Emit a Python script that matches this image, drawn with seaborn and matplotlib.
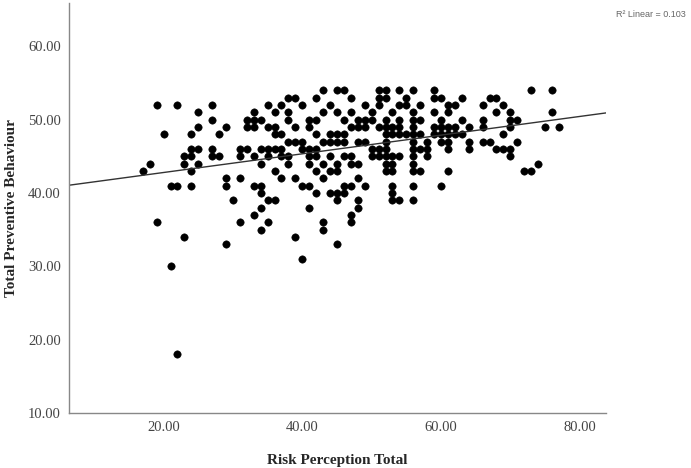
import numpy as np
import pandas as pd
import seaborn as sns
import matplotlib
matplotlib.use("Agg")
import matplotlib.pyplot as plt
from matplotlib.ticker import FormatStrFormatter

# Risk Perception Total values, one list per
# Total Preventive Behaviour score (points sit on an integer grid)
row_54 = [43, 45, 46, 51, 52, 54, 56, 59, 73, 76]
row_53 = [38, 39, 42, 47, 51, 52, 55, 59, 60, 63, 67, 68]
row_52 = [19, 22, 27, 35, 37, 40, 44, 49, 51, 54, 55, 57, 61, 62, 66, 69]
row_51 = [25, 33, 36, 38, 43, 45, 47, 50, 53, 56, 59, 61, 68, 70, 76]
row_50 = [27, 32, 33, 34, 38, 41, 42, 46, 48, 49, 50, 52, 54, 56, 57, 60, 63, 66, 70, 71]
row_49 = [25, 29, 32, 33, 35, 36, 39, 41, 47, 48, 49, 51, 52, 53, 54, 56, 59, 60, 61, 62,
          64, 66, 70, 75, 77]
row_48 = [20, 24, 28, 36, 37, 42, 44, 45, 46, 52, 53, 54, 55, 56, 57, 59, 60, 61, 62, 63, 69]
row_47 = [38, 39, 40, 43, 44, 45, 46, 48, 49, 52, 56, 58, 60, 61, 64, 66, 67, 71]
row_46 = [24, 25, 27, 31, 32, 34, 35, 36, 37, 40, 41, 42, 50, 51, 52, 56, 57, 58, 61, 64,
          68, 69, 70]
row_45 = [23, 24, 27, 28, 31, 33, 35, 37, 38, 41, 42, 44, 46, 47, 50, 51, 52, 53, 54, 56,
          58, 70]
row_44 = [18, 23, 25, 34, 38, 41, 43, 45, 47, 48, 52, 53, 56, 74]
row_43 = [17, 24, 36, 42, 44, 45, 52, 53, 56, 57, 61, 72, 73]
row_42 = [29, 31, 37, 39, 43, 48]
row_41 = [21, 22, 24, 29, 33, 34, 40, 41, 46, 47, 49, 53, 56, 60]
row_40 = [34, 42, 44, 45, 46, 53]
row_39 = [30, 35, 36, 45, 48, 53, 54, 56]
row_38 = [34, 41, 48]
row_37 = [33, 47]
row_36 = [19, 31, 35, 43, 47]
row_35 = [34, 43]
row_34 = [23, 39]
row_33 = [29, 45]
row_31 = [40]
row_30 = [21]
row_18 = [22]

rows = {54: row_54, 53: row_53, 52: row_52, 51: row_51, 50: row_50, 49: row_49,
        48: row_48, 47: row_47, 46: row_46, 45: row_45, 44: row_44, 43: row_43,
        42: row_42, 41: row_41, 40: row_40, 39: row_39, 38: row_38, 37: row_37,
        36: row_36, 35: row_35, 34: row_34, 33: row_33, 31: row_31, 30: row_30,
        18: row_18}

x_ticks = [20, 40, 60, 80]
y_ticks = [10, 20, 30, 40, 50, 60]

df = pd.DataFrame([(x, y) for y, xs in rows.items() for x in xs],
                  columns=["Risk Perception Total", "Total Preventive Behaviour"])

sns.set_style("white")
plt.rcParams["font.family"] = ["Liberation Serif", "DejaVu Serif"]

fig = plt.figure(figsize=(6.91, 4.68), dpi=100)
ax = fig.add_axes([0.1003, 0.1175, 0.7767, 0.876])

sns.scatterplot(data=df, x="Risk Perception Total", y="Total Preventive Behaviour",
                color="black", edgecolor="black", s=28, linewidth=0.4, ax=ax)
ax.set_xlim(6.4, 83.8)
ax.set_ylim(10, 65.9)
# SPSS style fit line across the full width
sns.regplot(data=df, x="Risk Perception Total", y="Total Preventive Behaviour",
            scatter=False, ci=None, truncate=False, color="#333333",
            line_kws={"linewidth": 1.0}, ax=ax)
ax.set_xlim(6.4, 83.8)
ax.set_ylim(10, 65.9)

ax.set_xticks(x_ticks)
ax.set_yticks(y_ticks)
ax.xaxis.set_major_formatter(FormatStrFormatter("%.2f"))
ax.yaxis.set_major_formatter(FormatStrFormatter("%.2f"))
ax.tick_params(length=0, labelsize=10.5, labelcolor="#444444", pad=6)

sns.despine(ax=ax)
for side in ["left", "bottom"]:
    ax.spines[side].set_color("#888888")
    ax.spines[side].set_linewidth(1.0)

ax.set_xlabel("Risk Perception Total", fontsize=11, fontweight="bold", labelpad=14)
ax.set_ylabel("Total Preventive Behaviour", fontsize=11, fontweight="bold")
ax.yaxis.set_label_coords(-0.096, 0.5)

fig.text(0.993, 0.968, "R\u00b2 Linear = 0.103", ha="right", va="center", fontsize=6.5,
         color="#666666", family=["Liberation Sans", "DejaVu Sans"])

fig.savefig("out.png", dpi=100)
